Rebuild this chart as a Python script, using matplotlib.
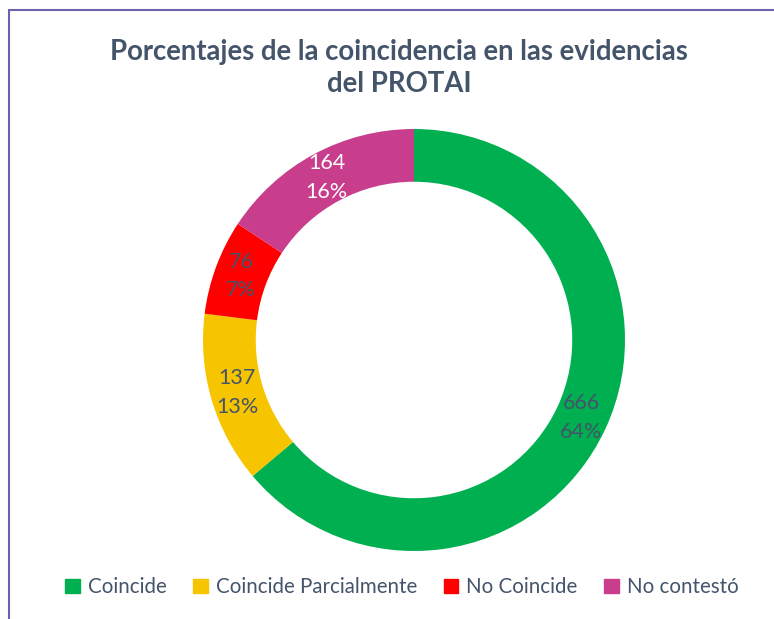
import matplotlib
matplotlib.use("Agg")
import matplotlib.pyplot as plt
import matplotlib.patches as mpatches
import numpy as np

categories = ["Coincide", "Coincide Parcialmente", "No Coincide", "No contestó"]
values = [666, 137, 76, 164]
percents = ["64%", "13%", "7%", "16%"]
colors = ["#00B050", "#F7C400", "#FF0000", "#C83E8C"]
label_colors = ["#44546A", "#44546A", "#44546A", "#FFFFFF"]
title = "Porcentajes de la coincidencia en las evidencias\ndel PROTAI"

plt.rcParams['font.family'] = ['Lato', 'DejaVu Sans']
W, H = 774, 619
fig = plt.figure(figsize=(W/100, H/100), dpi=100)

# border (right and bottom edges lie outside the image)
border = mpatches.Rectangle((9/W, -1), 2, 2 - 10/H, transform=fig.transFigure,
                            fill=False, edgecolor="#7060B0", linewidth=1.5)
fig.patches.append(border)

cx, cy, R = 414, 340, 211
ax = fig.add_axes([(cx - R)/W, (H - cy - R)/H, 2*R/W, 2*R/H])
ring = 0.25
wedges, _ = ax.pie(values, colors=colors, startangle=90, counterclock=False,
                   radius=1, wedgeprops=dict(width=ring, edgecolor='none'))
ax.set_xlim(-1, 1); ax.set_ylim(-1, 1)
ax.set_aspect('equal')
ax.axis('off')

rmid = 1 - ring/2
for w, v, p, lc in zip(wedges, values, percents, label_colors):
    ang = np.deg2rad((w.theta1 + w.theta2) / 2)
    ax.text(rmid*np.cos(ang), rmid*np.sin(ang), f"{v}\n{p}", ha='center', va='center',
            color=lc, fontsize=15.5, linespacing=1.55)

fig.text(399/W, 1 - 68/H, title, ha='center', va='center', fontsize=19.8,
         fontweight='bold', color="#44546A", linespacing=1.3)

handles = [mpatches.Patch(color=c, label=l) for c, l in zip(colors, categories)]
leg = fig.legend(handles=handles, loc='center', bbox_to_anchor=(402/W, 1 - 587/H),
                 ncol=4, frameon=False, fontsize=14.8, handlelength=0.7, handleheight=0.7,
                 handletextpad=0.4, columnspacing=1.3)
for t in leg.get_texts():
    t.set_color("#44546A")

fig.savefig("out.png", dpi=100)
